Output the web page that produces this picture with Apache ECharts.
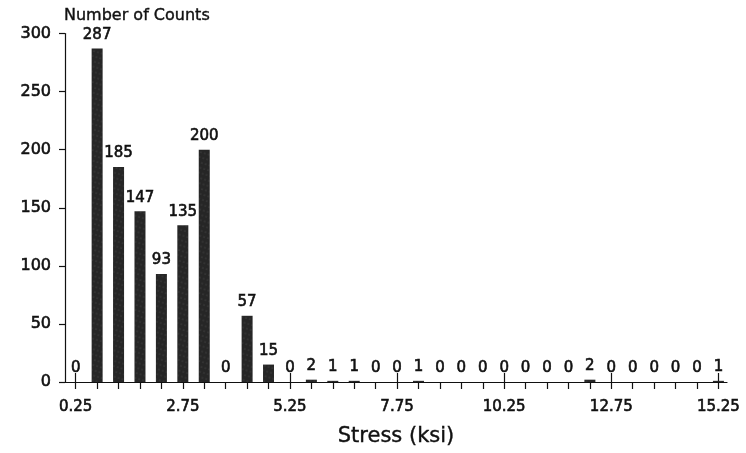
<!DOCTYPE html>
<html>
<head>
<meta charset="utf-8">
<script src="https://cdn.jsdelivr.net/npm/echarts@6/dist/echarts.min.js"></script>
<style>
html,body{margin:0;padding:0;background:#fff;}
#chart{width:746px;height:453px;}
</style>
</head>
<body>
<div id="chart"></div>
<script>
// Stress bin centres (ksi)
var stressBins = [0.25, 0.75, 1.25, 1.75, 2.25, 2.75, 3.25, 3.75, 4.25, 4.75,
                  5.25, 5.75, 6.25, 6.75, 7.25, 7.75, 8.25, 8.75, 9.25, 9.75,
                  10.25, 10.75, 11.25, 11.75, 12.25, 12.75, 13.25, 13.75, 14.25, 14.75, 15.25];
// Number of counts per bin
var counts = [0, 287, 185, 147, 93, 135, 200, 0, 57, 15,
              0, 2, 1, 1, 0, 0, 1, 0, 0, 0,
              0, 0, 0, 0, 2, 0, 0, 0, 0, 0, 1];
// Labelled x ticks
var xTickLabels = [0.25, 2.75, 5.25, 7.75, 10.25, 12.75, 15.25];
// y ticks
var yTicks = [0, 50, 100, 150, 200, 250, 300];

var FONT = 'DejaVu Sans';
var INK = '#111';
var chart = echarts.init(document.getElementById('chart'), null, {renderer: 'canvas'});

var seriesData = stressBins.map(function (b, i) { return [b, counts[i]]; });

chart.setOption({
  backgroundColor: '#ffffff',
  animation: false,
  title: {
    text: 'Number of Counts',
    left: 64,
    top: 8,
    padding: 0,
    textStyle: {fontFamily: FONT, fontSize: 16, fontWeight: 'normal', color: INK,
                textBorderColor: INK, textBorderWidth: 0.4}
  },
  grid: {left: 65, right: 19, top: 33.5, bottom: 71, containLabel: false, outerBoundsMode: 'none'},
  xAxis: [{
    type: 'value',
    position: 'bottom',
    min: 0,
    max: 15.45,
    name: 'Stress (ksi)',
    nameLocation: 'middle',
    nameGap: 44,
    nameTextStyle: {fontFamily: FONT, fontSize: 21, color: INK, textBorderColor: INK, textBorderWidth: 0.4},
    axisLine: {show: true, onZero: false, lineStyle: {color: INK, width: 1.2}},
    axisTick: {show: true, length: 7, customValues: stressBins, lineStyle: {color: INK, width: 1.2}},
    axisLabel: {
      show: true, margin: 18, customValues: xTickLabels,
      fontFamily: FONT, fontSize: 15, color: INK,
      textBorderColor: INK, textBorderWidth: 0.6,
      formatter: function (v) { return String(v); }
    },
    splitLine: {show: false}
  }, {
    type: 'value',
    position: 'bottom',
    min: 0,
    max: 15.45,
    axisLine: {show: false, onZero: false},
    axisTick: {show: true, inside: true, length: 9, customValues: xTickLabels, lineStyle: {color: INK, width: 1.2}},
    axisLabel: {show: false},
    splitLine: {show: false}
  }],
  yAxis: {
    type: 'value',
    min: 0,
    max: 300,
    interval: 50,
    axisLine: {show: true, lineStyle: {color: INK, width: 1.2}},
    axisTick: {show: true, length: 6, lineStyle: {color: INK, width: 1.2}},
    axisLabel: {
      margin: 14, fontFamily: FONT, fontSize: 16, color: INK,
      textBorderColor: INK, textBorderWidth: 0.6,
      customValues: yTicks
    },
    splitLine: {show: false}
  },
  series: [{
    type: 'bar',
    xAxisIndex: 0,
    data: seriesData,
    barWidth: 11,
    itemStyle: {
      color: '#262626',
      decal: {
        symbol: 'circle',
        symbolSize: 0.5,
        color: 'rgba(255,255,255,0.28)',
        dashArrayX: [[2, 2]],
        dashArrayY: [2, 3],
        rotation: 0.3
      }
    },
    label: {
      show: true,
      position: 'top',
      distance: 6,
      fontFamily: FONT,
      fontSize: 15,
      color: INK,
      textBorderColor: INK,
      textBorderWidth: 0.6
    }
  }]
});
</script>
</body>
</html>
